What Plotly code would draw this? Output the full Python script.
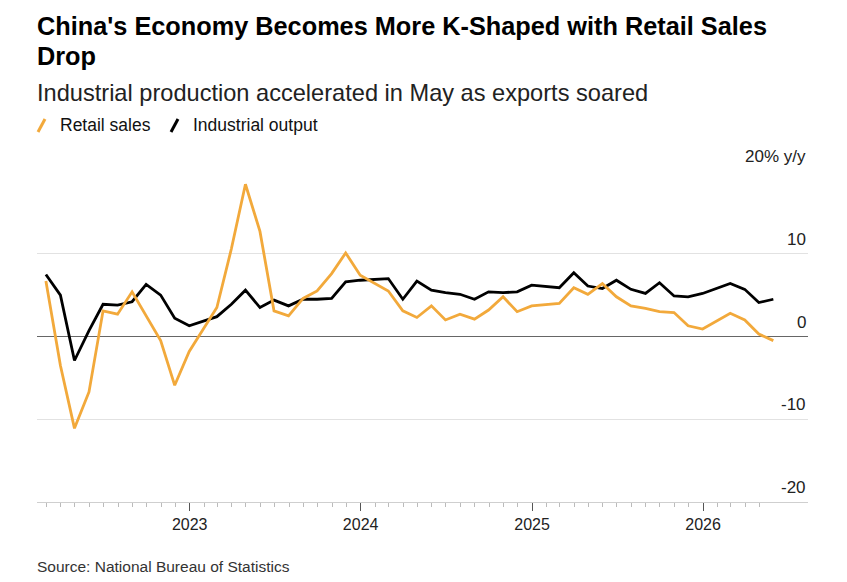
import pandas as pd
import plotly.graph_objects as go

# ---- data (Jan-Feb combined values plotted at February) ----
months = [
    "2022-02", "2022-03", "2022-04", "2022-05", "2022-06", "2022-07", "2022-08", "2022-09", "2022-10", "2022-11", "2022-12",
    "2023-02", "2023-03", "2023-04", "2023-05", "2023-06", "2023-07", "2023-08", "2023-09", "2023-10", "2023-11", "2023-12",
    "2024-02", "2024-03", "2024-04", "2024-05", "2024-06", "2024-07", "2024-08", "2024-09", "2024-10", "2024-11", "2024-12",
    "2025-02", "2025-03", "2025-04", "2025-05", "2025-06", "2025-07", "2025-08", "2025-09", "2025-10", "2025-11", "2025-12",
    "2026-02", "2026-03", "2026-04", "2026-05",
]
retail_sales = [
    6.7, -3.5, -11.1, -6.7, 3.1, 2.7, 5.4, 2.5, -0.5, -5.9, -1.8,
    3.5, 10.6, 18.4, 12.7, 3.1, 2.5, 4.6, 5.5, 7.6, 10.1, 7.4,
    5.5, 3.1, 2.3, 3.7, 2.0, 2.7, 2.1, 3.2, 4.8, 3.0, 3.7,
    4.0, 5.9, 5.1, 6.4, 4.8, 3.7, 3.4, 3.0, 2.9, 1.3, 0.9,
    2.8, 2.0, 0.3, -0.5,
]
industrial_output = [
    7.5, 5.0, -2.9, 0.7, 3.9, 3.8, 4.2, 6.3, 5.0, 2.2, 1.3,
    2.4, 3.9, 5.6, 3.5, 4.4, 3.7, 4.5, 4.5, 4.6, 6.6, 6.8,
    7.0, 4.5, 6.7, 5.6, 5.3, 5.1, 4.5, 5.4, 5.3, 5.4, 6.2,
    5.9, 7.7, 6.1, 5.8, 6.8, 5.7, 5.2, 6.5, 4.9, 4.8, 5.2,
    6.4, 5.7, 4.1, 4.5,
]
y_ticks = [20, 10, 0, -10, -20]
y_tick_labels = ["20% y/y", "10", "0", "-10", "-20"]
x_range = ["2022-02-09", "2026-08-13"]

dates = [(pd.Period(m, "M").end_time.normalize()).strftime("%Y-%m-%d") for m in months]
minor_ticks = [d.strftime("%Y-%m-%d") for d in pd.date_range("2022-03-01", "2026-05-01", freq="MS")]

ORANGE = "#F2A93B"
FONT = "Liberation Sans, Arial, sans-serif"

# plot area in pixels
L, R, T, B = 37, 808, 171, 502
def px(x):
    return (x - L) / (R - L)
def py(y):
    return (B - y) / (B - T)

fig = go.Figure()
fig.add_trace(go.Scatter(x=dates, y=industrial_output, mode="lines", name="Industrial output",
                         line=dict(color="#000000", width=2.8)))
fig.add_trace(go.Scatter(x=dates, y=retail_sales, mode="lines", name="Retail sales",
                         line=dict(color=ORANGE, width=2.8)))

annotations = []
# titles
annotations.append(dict(text="<b>China's Economy Becomes More K-Shaped with Retail Sales</b>", x=px(35), y=py(26),
                        xref="paper", yref="paper", xanchor="left", yanchor="middle", showarrow=False,
                        font=dict(family=FONT, size=25.3, color="#000")))
annotations.append(dict(text="<b>Drop</b>", x=px(35), y=py(56),
                        xref="paper", yref="paper", xanchor="left", yanchor="middle", showarrow=False,
                        font=dict(family=FONT, size=25.3, color="#000")))
annotations.append(dict(text="Industrial production accelerated in May as exports soared", x=px(35), y=py(93),
                        xref="paper", yref="paper", xanchor="left", yanchor="middle", showarrow=False,
                        font=dict(family=FONT, size=23.6, color="#222")))
# legend text
annotations.append(dict(text="Retail sales", x=px(58), y=py(125), xref="paper", yref="paper",
                        xanchor="left", yanchor="middle", showarrow=False,
                        font=dict(family=FONT, size=17.5, color="#111")))
annotations.append(dict(text="Industrial output", x=px(191), y=py(125), xref="paper", yref="paper",
                        xanchor="left", yanchor="middle", showarrow=False,
                        font=dict(family=FONT, size=17.5, color="#111")))
# source
annotations.append(dict(text="Source: National Bureau of Statistics", x=px(35), y=py(566), xref="paper", yref="paper",
                        xanchor="left", yanchor="middle", showarrow=False,
                        font=dict(family=FONT, size=15.5, color="#333")))
# y tick labels above gridlines
for v, lab in zip(y_ticks, y_tick_labels):
    annotations.append(dict(text=lab, x=1, y=v, xref="paper", yref="y", xanchor="right", yanchor="bottom",
                            yshift=3, showarrow=False, font=dict(family=FONT, size=17, color="#222")))

shapes = [
    dict(type="line", xref="paper", yref="paper", x0=px(38), y0=py(132), x1=px(45), y1=py(119),
         line=dict(color=ORANGE, width=3)),
    dict(type="line", xref="paper", yref="paper", x0=px(171), y0=py(132), x1=px(178), y1=py(119),
         line=dict(color="#000", width=3)),
]

fig.update_layout(
    width=847, height=582,
    margin=dict(l=L, r=847 - R, t=T, b=582 - B),
    paper_bgcolor="white", plot_bgcolor="white",
    showlegend=False,
    annotations=annotations,
    shapes=shapes,
    font=dict(family=FONT),
)
fig.update_xaxes(
    type="date", range=x_range,
    tickmode="linear", tick0="2023-01-01", dtick="M12", tickformat="%Y",
    ticks="outside", ticklen=8, tickwidth=1.2, tickcolor="#555",
    showline=True, linecolor="#cfcfcf", linewidth=1.2,
    showgrid=False, zeroline=False,
    tickfont=dict(family=FONT, size=16, color="#222"),
    minor=dict(tickmode="array", tickvals=minor_ticks, ticks="outside", ticklen=4,
               tickcolor="#bbbbbb", tickwidth=1, showgrid=False),
    fixedrange=True,
)
fig.update_yaxes(
    range=[-20, 20], tickmode="array", tickvals=y_ticks, showticklabels=False,
    showgrid=True, gridcolor="#e2e2e2", gridwidth=1.2,
    zeroline=True, zerolinecolor="#666666", zerolinewidth=1.3,
    showline=False, ticks="", fixedrange=True,
)

fig.write_html("out.html")
